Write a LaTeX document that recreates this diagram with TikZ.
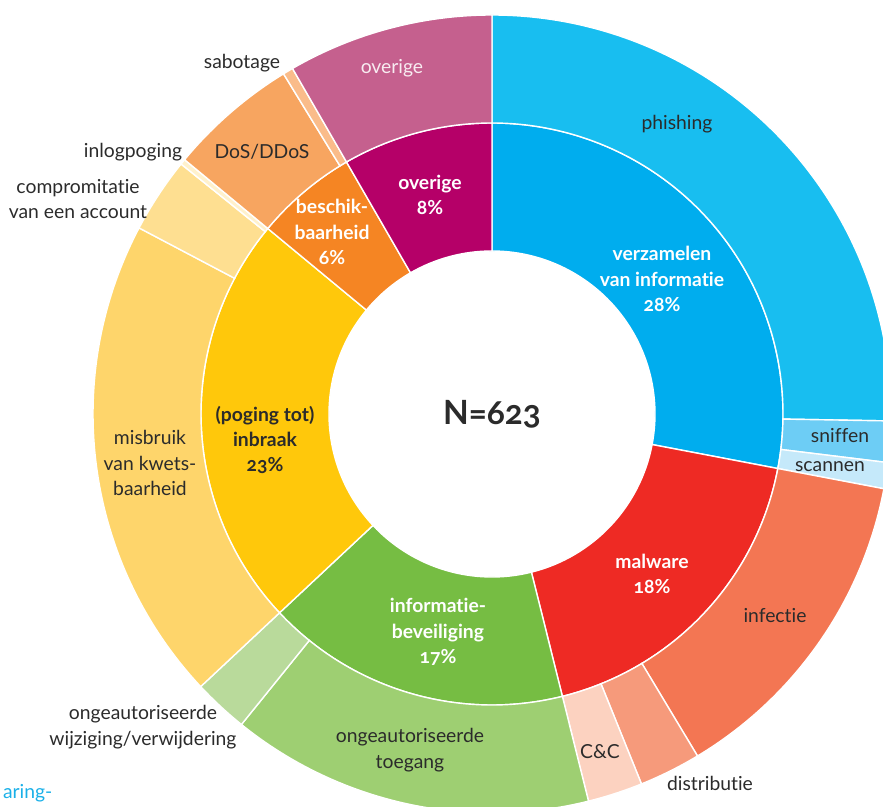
\documentclass[tikz,border=0pt]{standalone}
\usepackage{fontspec}
\setmainfont{Lato}[Numbers=OldStyle, Ligatures=NoCommon]
\usepackage{color}
\definecolor{verzamelen}{HTML}{00ADEE}
\definecolor{phishing}{HTML}{18BEF0}
\definecolor{sniffen}{HTML}{6DCDF5}
\definecolor{scannen}{HTML}{C5E9FA}
\definecolor{malware}{HTML}{EE2A24}
\definecolor{infectie}{HTML}{F37653}
\definecolor{distributie}{HTML}{F69A7B}
\definecolor{candc}{HTML}{FCD2C0}
\definecolor{infobev}{HTML}{76BD43}
\definecolor{toegang}{HTML}{9ECF72}
\definecolor{wijziging}{HTML}{B9DA9B}
\definecolor{inbraak}{HTML}{FFC80B}
\definecolor{misbruik}{HTML}{FED56B}
\definecolor{compromitatie}{HTML}{FEDF91}
\definecolor{inlogpoging}{HTML}{FFF1CC}
\definecolor{beschikbaar}{HTML}{F58523}
\definecolor{dos}{HTML}{F7A560}
\definecolor{sabotage}{HTML}{FABC8A}
\definecolor{overigein}{HTML}{B50068}
\definecolor{overigeout}{HTML}{C5608E}
\definecolor{textgrey}{HTML}{2B2B2B}
\definecolor{linkblue}{HTML}{1AB0E8}

\begin{document}
\begin{tikzpicture}[part/.style={draw=white, line width=0.8pt},
    outer label/.style={text=textgrey, font=\fontsize{11}{14.5}\selectfont, align=center},
    inner label/.style={text=white, font=\fontsize{11}{14.5}\selectfont\bfseries, align=center}]
    \clip (-9.84,-7.86) rectangle (7.82,8.28);
    % inner ring
    \filldraw[part, fill=verzamelen] (90:3.26) arc[start angle=90, end angle=-10.8, radius=3.26] -- (-10.8:5.82) arc[start angle=-10.8, end angle=90, radius=5.82] -- cycle;
    \filldraw[part, fill=malware] (-10.8:3.26) arc[start angle=-10.8, end angle=-76, radius=3.26] -- (-76:5.82) arc[start angle=-76, end angle=-10.8, radius=5.82] -- cycle;
    \filldraw[part, fill=infobev] (-76:3.26) arc[start angle=-76, end angle=-136.9, radius=3.26] -- (-136.9:5.82) arc[start angle=-136.9, end angle=-76, radius=5.82] -- cycle;
    \filldraw[part, fill=inbraak] (-136.9:3.26) arc[start angle=-136.9, end angle=-219.6, radius=3.26] -- (-219.6:5.82) arc[start angle=-219.6, end angle=-136.9, radius=5.82] -- cycle;
    \filldraw[part, fill=beschikbaar] (140.4:3.26) arc[start angle=140.4, end angle=120, radius=3.26] -- (120:5.82) arc[start angle=120, end angle=140.4, radius=5.82] -- cycle;
    \filldraw[part, fill=overigein] (120:3.26) arc[start angle=120, end angle=90, radius=3.26] -- (90:5.82) arc[start angle=90, end angle=120, radius=5.82] -- cycle;
    % outer ring
    \filldraw[part, fill=phishing] (90:5.82) arc[start angle=90, end angle=-1, radius=5.82] -- (-1:7.98) arc[start angle=-1, end angle=90, radius=7.98] -- cycle;
    \filldraw[part, fill=sniffen] (-1:5.82) arc[start angle=-1, end angle=-7, radius=5.82] -- (-7:7.98) arc[start angle=-7, end angle=-1, radius=7.98] -- cycle;
    \filldraw[part, fill=scannen] (-7:5.82) arc[start angle=-7, end angle=-10.8, radius=5.82] -- (-10.8:7.98) arc[start angle=-10.8, end angle=-7, radius=7.98] -- cycle;
    \filldraw[part, fill=infectie] (-10.8:5.82) arc[start angle=-10.8, end angle=-59, radius=5.82] -- (-59:7.98) arc[start angle=-59, end angle=-10.8, radius=7.98] -- cycle;
    \filldraw[part, fill=distributie] (-59:5.82) arc[start angle=-59, end angle=-68, radius=5.82] -- (-68:7.98) arc[start angle=-68, end angle=-59, radius=7.98] -- cycle;
    \filldraw[part, fill=candc] (-68:5.82) arc[start angle=-68, end angle=-76, radius=5.82] -- (-76:7.98) arc[start angle=-76, end angle=-68, radius=7.98] -- cycle;
    \filldraw[part, fill=toegang] (-76:5.82) arc[start angle=-76, end angle=-128.9, radius=5.82] -- (-128.9:7.98) arc[start angle=-128.9, end angle=-76, radius=7.98] -- cycle;
    \filldraw[part, fill=wijziging] (-128.9:5.82) arc[start angle=-128.9, end angle=-136.9, radius=5.82] -- (-136.9:7.98) arc[start angle=-136.9, end angle=-128.9, radius=7.98] -- cycle;
    \filldraw[part, fill=misbruik] (-136.9:5.82) arc[start angle=-136.9, end angle=-207.8, radius=5.82] -- (-207.8:7.98) arc[start angle=-207.8, end angle=-136.9, radius=7.98] -- cycle;
    \filldraw[part, fill=compromitatie] (152.2:5.82) arc[start angle=152.2, end angle=141.2, radius=5.82] -- (141.2:7.98) arc[start angle=141.2, end angle=152.2, radius=7.98] -- cycle;
    \filldraw[part, fill=inlogpoging] (141.2:5.82) arc[start angle=141.2, end angle=140.4, radius=5.82] -- (140.4:7.98) arc[start angle=140.4, end angle=141.2, radius=7.98] -- cycle;
    \filldraw[part, fill=dos] (140.4:5.82) arc[start angle=140.4, end angle=121.5, radius=5.82] -- (121.5:7.98) arc[start angle=121.5, end angle=140.4, radius=7.98] -- cycle;
    \filldraw[part, fill=sabotage] (121.5:5.82) arc[start angle=121.5, end angle=120, radius=5.82] -- (120:7.98) arc[start angle=120, end angle=121.5, radius=7.98] -- cycle;
    \filldraw[part, fill=overigeout] (120:5.82) arc[start angle=120, end angle=90, radius=5.82] -- (90:7.98) arc[start angle=90, end angle=120, radius=7.98] -- cycle;

    % labels
    \node[font=\fontsize{19}{20}\selectfont\bfseries, text=textgrey] (total) at (0,0) {N=623};
    \node[inner label] (verzamelenlabel) at (3.40,2.70) {verzamelen\\van informatie\\28\%};
    \node[inner label] (malwarelabel) at (3.20,-3.20) {malware\\18\%};
    \node[inner label] (infobevlabel) at (-1.08,-4.36) {informatie-\\beveiliging\\17\%};
    \node[inner label, text=textgrey] (inbraaklabel) at (-4.54,-0.52) {(poging tot)\\inbraak\\23\%};
    \node[inner label] (beschiklabel) at (-3.20,3.64) {beschik-\\baarheid\\6\%};
    \node[inner label] (overigelabel) at (-1.24,4.38) {overige\\8\%};
    \node[outer label, text=white!88!overigeout] (overigeout) at (-2.00,6.92) {overige};
    \node[outer label] (phishing) at (3.70,5.80) {phishing};
    \node[outer label] (sniffen) at (6.96,-0.44) {sniffen};
    \node[outer label] (scannen) at (6.76,-1.06) {scannen};
    \node[outer label] (infectie) at (5.66,-4.04) {infectie};
    \node[outer label] (distributie) at (4.36,-7.38) {distributie};
    \node[outer label] (candc) at (2.16,-6.76) {C\&C};
    \node[outer label] (toegang) at (-1.64,-6.72) {ongeautoriseerde\\toegang};
    \node[outer label] (wijziging) at (-6.98,-6.26) {ongeautoriseerde\\wijziging/verwijdering};
    \node[outer label] (misbruik) at (-6.84,-0.98) {misbruik\\van kwets-\\baarheid};
    \node[outer label] (compromitatie) at (-8.28,4.30) {compromitatie\\van een account};
    \node[outer label] (inlogpoging) at (-7.18,5.24) {inlogpoging};
    \node[outer label] (dos) at (-4.60,5.24) {DoS/DDoS};
    \node[outer label] (sabotage) at (-5.00,7.02) {sabotage};
    \node[outer label, text=linkblue, anchor=west, inner sep=1pt] (aring) at (-9.82,-7.58) {aring-};
\end{tikzpicture}
\end{document}
